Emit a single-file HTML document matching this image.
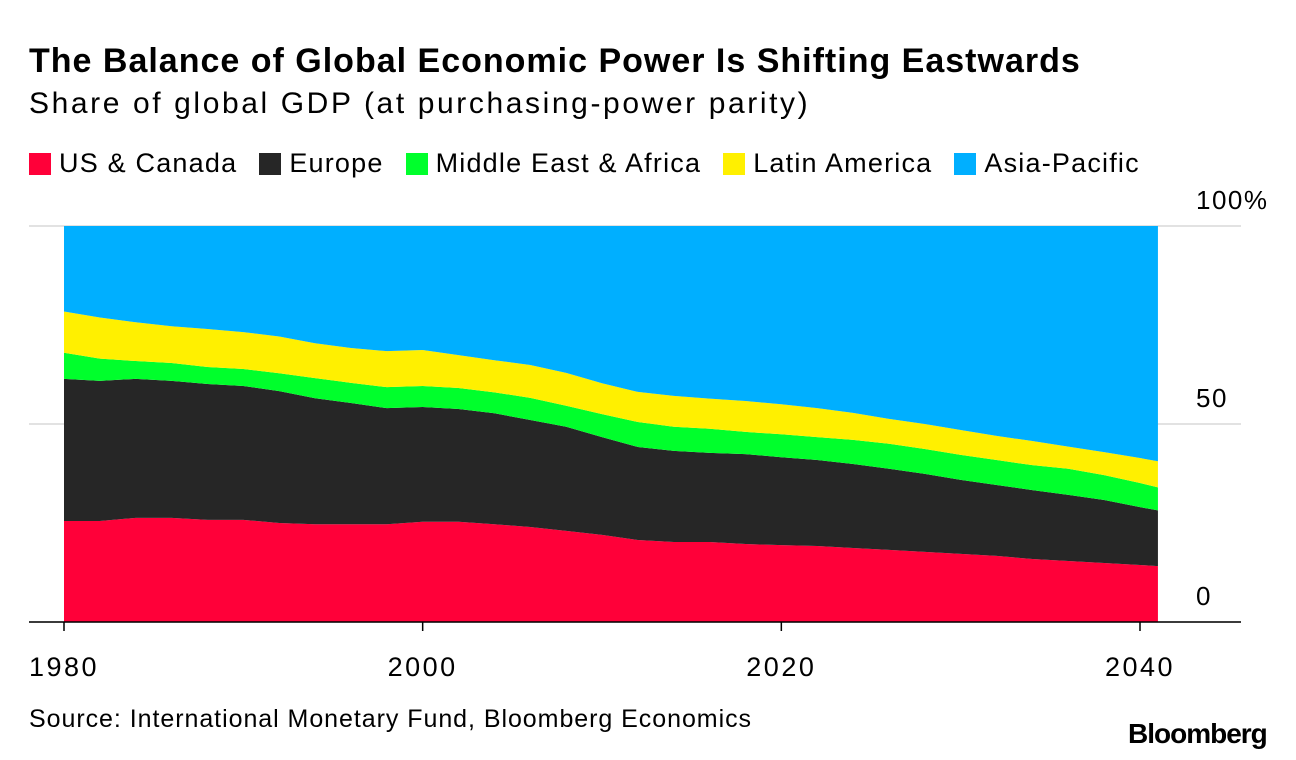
<!DOCTYPE html>
<html><head><meta charset="utf-8">
<style>
body{margin:0;background:#fff;font-family:"Liberation Sans",sans-serif;color:#000;}
#wrap{position:relative;width:1296px;height:760px;overflow:hidden;}
.t{position:absolute;white-space:nowrap;}
</style></head><body>
<div id="wrap">
<div class="t" style="left:29px;top:42px;font-size:34px;font-weight:bold;letter-spacing:1.0px">The Balance of Global Economic Power Is Shifting Eastwards</div>
<div class="t" style="left:29px;top:87px;font-size:30px;letter-spacing:2.6px">Share of global GDP (at purchasing-power parity)</div>
<div class="t" style="left:29px;top:148px;font-size:27px;letter-spacing:1.2px;display:flex;align-items:center">
<span style="display:flex;align-items:center;margin-right:22px"><span style="display:inline-block;width:22px;height:22px;background:#ff0039;margin-right:8px"></span>US &amp; Canada</span>
<span style="display:flex;align-items:center;margin-right:22px"><span style="display:inline-block;width:22px;height:22px;background:#262626;margin-right:8px"></span>Europe</span>
<span style="display:flex;align-items:center;margin-right:22px"><span style="display:inline-block;width:22px;height:22px;background:#00ff2c;margin-right:8px"></span>Middle East &amp; Africa</span>
<span style="display:flex;align-items:center;margin-right:22px"><span style="display:inline-block;width:22px;height:22px;background:#fff000;margin-right:8px"></span>Latin America</span>
<span style="display:flex;align-items:center"><span style="display:inline-block;width:22px;height:22px;background:#00afff;margin-right:8px"></span>Asia-Pacific</span>
</div>
<svg id="chart" width="1296" height="760" style="position:absolute;left:0;top:0"></svg>
<div class="t" style="left:29px;top:705px;font-size:25px;letter-spacing:0.95px">Source: International Monetary Fund, Bloomberg Economics</div>
<div class="t" style="left:1128px;top:718px;font-size:28px;font-weight:bold;letter-spacing:-1.0px">Bloomberg</div>
</div>
<script>
const years=[1980,1982,1984,1986,1988,1990,1992,1994,1996,1998,2000,2002,2004,2006,2008,2010,2012,2014,2016,2018,2020,2022,2024,2026,2028,2030,2032,2034,2036,2038,2040,2041];
const usCanada=[25.5,25.5,26.3,26.3,25.8,25.8,25.0,24.7,24.7,24.7,25.3,25.3,24.7,24.0,23.0,22.0,20.7,20.2,20.2,19.7,19.4,19.2,18.7,18.2,17.7,17.2,16.7,15.9,15.4,14.9,14.4,14.1];
const europe=[35.9,35.4,35.1,34.6,34.3,33.8,33.3,31.8,30.6,29.3,29.0,28.5,28.0,27.0,26.3,24.7,23.5,23.0,22.5,22.7,22.2,21.7,21.2,20.5,19.7,18.7,17.9,17.4,16.7,15.9,14.6,14.1];
const middleEastAfrica=[6.6,5.6,4.5,4.5,4.3,4.3,4.5,5.1,5.1,5.3,5.3,5.3,5.3,5.6,5.3,5.8,6.3,6.1,6.1,5.6,5.8,5.8,6.1,6.3,6.3,6.3,6.3,6.3,6.6,6.3,6.1,5.8];
const latinAmerica=[10.4,10.4,9.8,9.3,9.6,9.3,9.3,8.8,8.8,9.1,9.1,8.3,8.1,8.3,8.3,7.8,7.6,7.8,7.6,7.8,7.6,7.3,6.8,6.3,6.3,6.3,6.1,6.1,5.6,5.8,6.3,6.6];
const yTicks=[0,50,100];
const xTicks=[1980,2000,2020,2040];
const seriesNames=['us-canada','europe','middle-east-africa','latin-america','asia-pacific'];
const colors=['#ff0039','#262626','#00ff2c','#fff000','#00afff'];

const NS='http://www.w3.org/2000/svg';
const svg=document.getElementById('chart');
const x=yr=>64+(yr-1980)*(1140-64)/60;
const y=v=>622-v*(622-226)/100;
function mk(tag,attrs){const e=document.createElementNS(NS,tag);for(const k in attrs)e.setAttribute(k,attrs[k]);svg.appendChild(e);return e;}

yTicks.forEach(t=>{
  const g=mk('line',{x1:29,x2:1241,y1:y(t),y2:y(t),stroke:'#d9d9d9','stroke-width':1.5});
  
  
});
const asia=years.map((_,i)=>100-usCanada[i]-europe[i]-middleEastAfrica[i]-latinAmerica[i]);
const layers=[usCanada,europe,middleEastAfrica,latinAmerica,asia];
let base=years.map(()=>0);
layers.forEach((s,li)=>{
  const top=base.map((b,i)=>b+s[i]);
  let d='M'+years.map((yr,i)=>x(yr)+','+y(top[i])).join('L');
  d+='L'+years.slice().reverse().map((yr,j)=>{const i=years.length-1-j;return x(yr)+','+y(base[i]);}).join('L')+'Z';
  const p=mk('path',{d:d,fill:colors[li]});
  
  
  base=top;
});
const ax=mk('line',{x1:29,x2:1241,y1:y(0),y2:y(0),stroke:'#000','stroke-width':1.5});


xTicks.forEach(t=>{
  const tk=mk('line',{x1:x(t),x2:x(t),y1:y(0),y2:y(0)+9,stroke:'#000','stroke-width':1.5});
  
  
  const lb=mk('text',{x:x(t),y:676,'text-anchor':'middle','font-size':27,'letter-spacing':'2.5','font-family':'Liberation Sans, sans-serif'});
  lb.textContent=t;
  
  
});
yTicks.forEach(t=>{
  const lb=mk('text',{x:1196,y:y(t)-17,'text-anchor':'start','font-size':26,'letter-spacing':'1.5','font-family':'Liberation Sans, sans-serif'});
  lb.textContent=t===100?'100%':t;
  
  
});
</script>
</body></html>
